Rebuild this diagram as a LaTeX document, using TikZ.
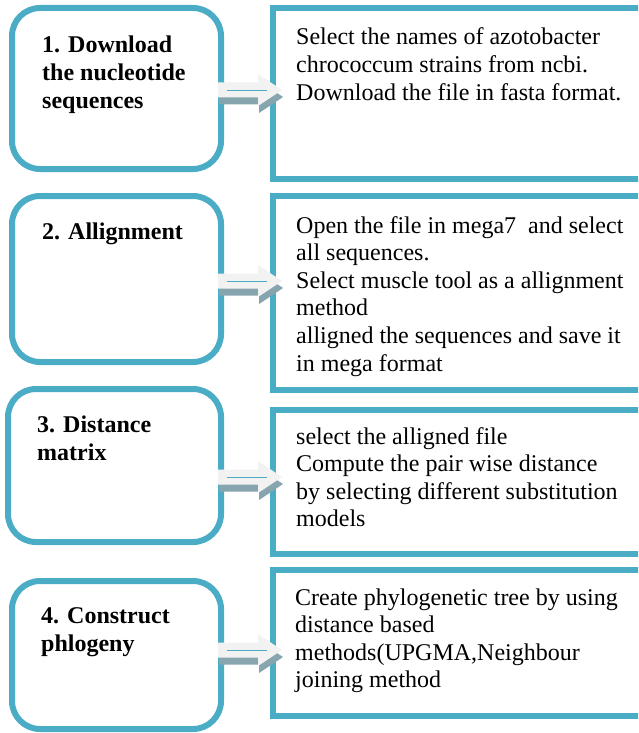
\documentclass[tikz,border=0pt]{standalone}
\usepackage{fontspec}
\setmainfont{Liberation Serif}
\definecolor{aqua}{HTML}{4BACC6}
\definecolor{arrowlight}{HTML}{F2F2F2}
\definecolor{arrowshade}{HTML}{86A5AE}
\tikzset{
  flowarrow/.pic={
    \fill[arrowshade] (-2,-0.5)--(38,-0.5)--(38,-9)--(62,7)--(38,23)--(38,14.5)--(-2,14.5)--cycle;
    \fill[arrowlight] (-3,-7.5)--(37,-7.5)--(37,-16)--(61,0)--(37,16)--(37,7.5)--(-3,7.5)--cycle;
    \draw[aqua, line width=0.8pt] (6,0)--(46,0);
  }
}
\begin{document}
\begin{tikzpicture}[x=1pt,y=-1pt,
  lbox/.style={draw=aqua, line width=6pt, rounded corners=28pt, fill=white, inner sep=0pt, outer sep=0pt, anchor=north west, minimum width=209pt},
  rbox/.style={draw=aqua, line width=6.5pt, fill=white, inner sep=0pt, outer sep=0pt, anchor=north west, minimum width=420pt},
  ltext/.style={anchor=base west, inner sep=0pt, font=\fontsize{24}{28}\selectfont\bfseries},
  rtext/.style={anchor=base west, inner sep=0pt, font=\fontsize{24}{27.6}\selectfont},
]
\useasboundingbox (0,0) rectangle (638,733);
\clip (0,0) rectangle (638,733);
\fill[white] (0,0) rectangle (638,733);

% left boxes
\node[lbox, minimum height=161pt] (L1) at (12,8) {};
\node[lbox, minimum height=166pt] (L2) at (12,196) {};
\node[lbox, minimum height=153pt, minimum width=213pt] (L3) at (8,389) {};
\node[lbox, minimum height=148pt] (L4) at (12,581) {};

% right boxes
\node[rbox, minimum height=171pt] (R1) at (273,8) {};
\node[rbox, minimum height=194pt] (R2) at (273,196) {};
\node[rbox, minimum height=144pt] (R3) at (273,410) {};
\node[rbox, minimum height=146pt] (R4) at (273,570) {};

% left texts
\node[ltext] (T1) at (42,53) {\parbox[t]{180pt}{1. Download\\the nucleotide\\sequences}};
\node[ltext] (T2) at (42,239) {\parbox[t]{180pt}{2. Allignment}};
\node[ltext] (T3) at (37,432) {\parbox[t]{180pt}{3. Distance\\matrix}};
\node[ltext] (T4) at (41,623) {\parbox[t]{180pt}{4. Construct\\phlogeny}};

% right texts
\node[rtext] (S1) at (296,45) {\parbox[t]{400pt}{Select the names of azotobacter\\chrococcum strains from ncbi.\\Download the file in fasta format.}};
\node[rtext] (S2) at (296,233) {\parbox[t]{400pt}{Open the file in mega7~ and select\\all sequences.\\Select muscle tool as a allignment\\method\\alligned the sequences and save it\\in mega format}};
\node[rtext] (S3) at (296,444) {\parbox[t]{400pt}{select the alligned file\\Compute the pair wise distance\\by selecting different substitution\\models}};
\node[rtext] (S4) at (295,605) {\parbox[t]{400pt}{Create phylogenetic tree by using\\distance based\\methods(UPGMA,Neighbour\\joining method}};

% connectors (block arrows from left box to right box)
\coordinate (A1) at (L1.east |- 0,90);
\coordinate (A2) at (L2.east |- 0,281);
\coordinate (A3) at (L3.east |- 0,477);
\coordinate (A4) at (L4.east |- 0,650);
\pic at (A1) {flowarrow};
\pic at (A2) {flowarrow};
\pic at (A3) {flowarrow};
\pic at (A4) {flowarrow};
\end{tikzpicture}
\end{document}
